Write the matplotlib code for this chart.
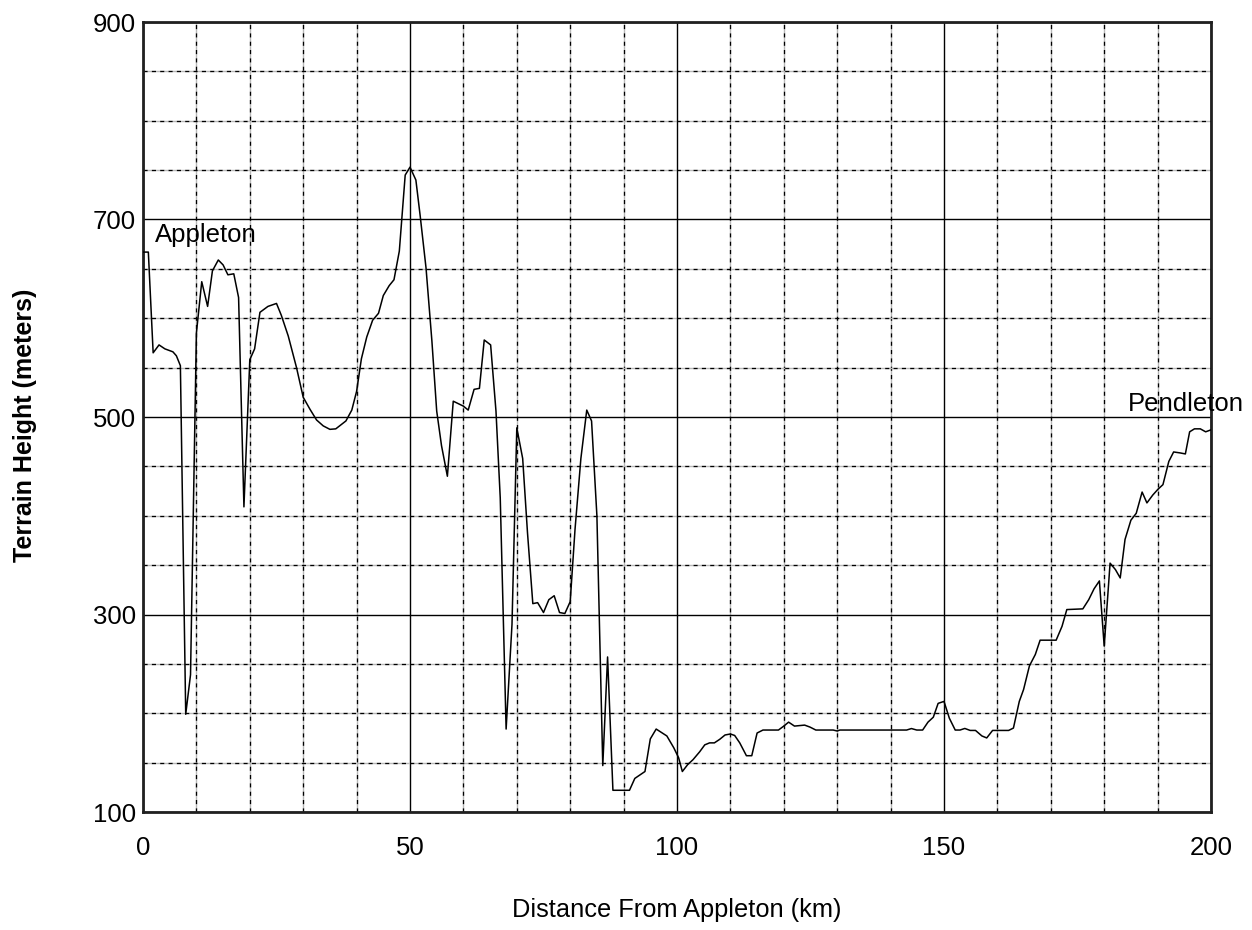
import matplotlib
matplotlib.use("Agg")
import matplotlib.pyplot as plt
from matplotlib.ticker import MultipleLocator

plt.rcParams['font.family'] = ['Liberation Sans', 'DejaVu Sans']

distance_km = [0, 1, 1.9, 3, 4.1, 5.6, 6.25, 7, 8, 8.9, 10, 11, 12.1, 13, 14.1, 15, 15.9, 17,
               17.9, 18.9, 20, 20.9, 21.9, 23.4, 25, 25.9, 27.2, 28.75, 30, 31.25, 32.5, 33.75,
               35, 36.1, 38, 39.1, 40, 40.9, 41.9, 43, 44.1, 45, 46.1, 47, 48, 49.1, 50, 51.1,
               51.9, 53, 54.1, 55, 55.9, 57, 58.1, 60, 60.9, 62, 63, 63.9, 65.1, 66.1, 66.9,
               68, 69.1, 70, 71.1, 72, 73, 73.9, 75, 76, 77, 78, 79, 80, 80.9, 82, 83.1, 84,
               85, 86.1, 87, 88, 91.1, 92.1, 94, 95, 96.1, 98.1, 99.4, 100.3, 101, 102, 103,
               104.25, 105.2, 106.1, 107, 108, 109, 110, 110.8, 111.75, 113, 114, 115, 116.1,
               119, 120, 120.9, 122, 123.9, 124.9, 126, 129.25, 130, 130.5, 143, 143.9, 144.9,
               146, 147, 148, 148.9, 150, 151, 152.1, 153, 153.9, 154.9, 155.9, 157.1, 158,
               159.1, 162.1, 163, 164.1, 164.9, 166, 167.1, 168, 168.9, 171, 172.1, 173, 176,
               177.1, 178.1, 179.1, 180, 181.1, 182.1, 183, 183.9, 185, 186, 187.1, 188, 189.1,
               190.1, 191, 192.1, 193, 194.25, 195.2, 196, 196.9, 198, 199, 200]

height_m = [667, 667, 565, 573, 569, 566, 562, 552, 199, 239, 585, 637, 612, 648, 659, 654, 644, 645,
            621, 409, 558, 569, 606, 612, 615, 603, 582, 550, 520, 508, 497, 491,
            487.5, 488, 496, 507, 526, 559, 581, 598, 605, 623, 633, 639, 668, 745, 753, 740,
            704, 651, 577, 506, 471, 440, 516, 511, 507, 528, 529, 578, 573, 506, 418,
            184, 290, 489, 458, 383, 311, 312, 302, 315, 319, 302, 301, 313, 386, 458, 507, 496,
            400, 147, 257, 122, 122, 134, 141, 174, 184, 177, 165, 155, 141, 148, 153,
            161, 168, 170, 170, 173.6, 178, 179, 177.5, 170, 157, 157, 180, 183,
            183, 187, 191, 187, 188, 186, 183, 183, 182, 183, 183, 184.5, 183,
            183, 191, 196, 210, 212, 195, 183, 183, 184.6, 182.6, 182.6, 177, 175,
            182.6, 182.6, 185, 212, 224, 248, 259.5, 274, 274, 274, 288, 305, 305.7,
            315, 326, 334, 268, 352, 345.5, 337, 376, 395.5, 402.5, 424, 413, 421,
            427, 431.5, 455, 464.6, 463.6, 462.6, 485, 488, 488, 485, 487]

x_ticks = [0, 50, 100, 150, 200]
y_ticks = [100, 300, 500, 700, 900]

W, H = 1252, 930
fig = plt.figure(figsize=(W / 100, H / 100), dpi=100)
ax = fig.add_axes([143 / W, 1 - 812 / H, (1211 - 143) / W, (812 - 22) / H])

ax.plot(distance_km, height_m, color='black', linewidth=1.1, zorder=3)

ax.set_xlim(0, 200)
ax.set_ylim(100, 900)
ax.set_xticks(x_ticks)
ax.set_yticks(y_ticks)
ax.xaxis.set_minor_locator(MultipleLocator(10))
ax.yaxis.set_minor_locator(MultipleLocator(50))

ax.grid(which='major', color='black', linewidth=1.0, linestyle='-')
ax.grid(which='minor', color='black', linewidth=1.0, linestyle=(0, (3, 3)), gapcolor='#b8b8b8')
ax.set_axisbelow(True)

for s in ax.spines.values():
    s.set_linewidth(2.0)
    s.set_color('#202020')

ax.tick_params(which='both', length=0)
ax.tick_params(axis='x', labelsize=18.5, pad=17)
ax.tick_params(axis='y', labelsize=18.5, pad=5)

ax.text(2.2, 677, 'Appleton', fontsize=18.5, ha='left', va='baseline', zorder=4)
ax.text(184.5, 506, 'Pendleton', fontsize=18.5, ha='left', va='baseline', zorder=4,
        clip_on=False)

fig.text(677 / W, 1 - 910 / H, 'Distance From Appleton (km)', fontsize=18.3, ha='center', va='center')
fig.text(25 / W, 1 - 425 / H, 'Terrain Height (meters)', fontsize=18, fontweight='bold',
         rotation=90, ha='center', va='center')

fig.savefig('out.png', dpi=100)
